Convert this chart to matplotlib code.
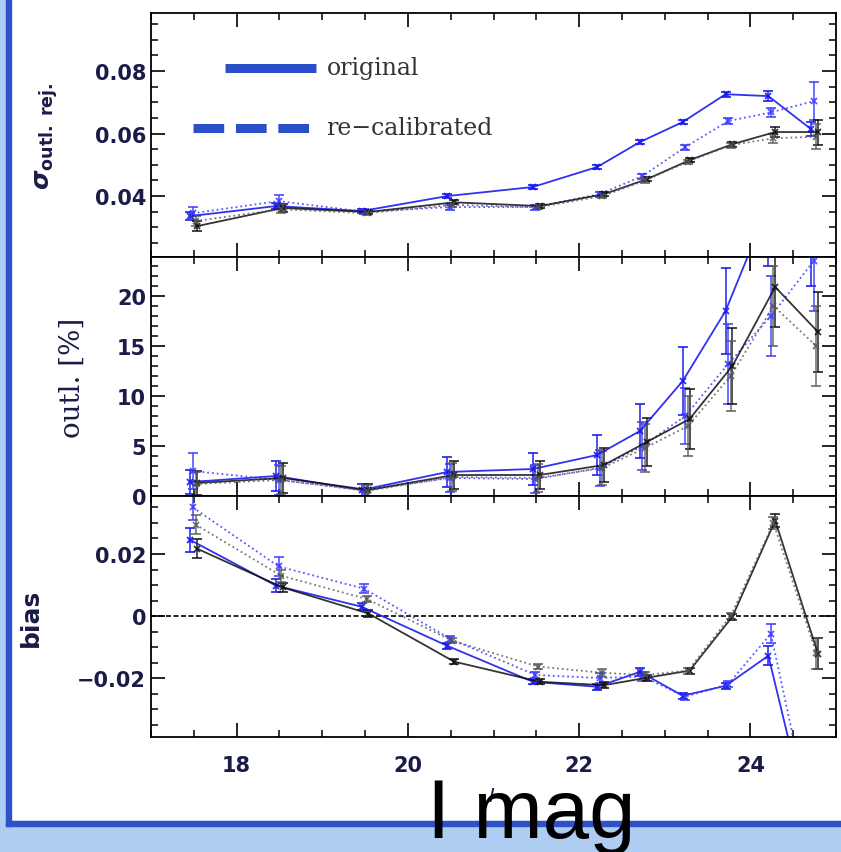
"""
Photo-z quality vs I magnitude: scatter after outlier rejection, outlier
fraction and bias, for the original and the re-calibrated catalogues.
"""

import numpy as np
import matplotlib
matplotlib.use("Agg")
import matplotlib.pyplot as plt
from matplotlib.patches import Rectangle
from matplotlib.ticker import MultipleLocator

W, H = 841, 853
NAVY = "#1b1b48"
BLUE = "#1a1aee"
BLUE_DOT = "#3a3aff"
BLACK = "#111111"
GREY = "#555555"
LEG_BLUE = "#2b4fc8"
FRAME_DARK = "#2f50c8"
FRAME_LIGHT = "#aecdf1"

mag = [17.5, 18.5, 19.5, 20.5, 21.5, 22.25, 22.75, 23.25, 23.75, 24.25, 24.75]

# sigma after outlier rejection
sig_blue = [0.0336, 0.0368, 0.0352, 0.0400, 0.0429, 0.0493, 0.0573, 0.0637, 0.0726, 0.0720, 0.0614]
sig_blue_err = [0.0012, 0.0010, 0.0006, 0.0006, 0.0005, 0.0005, 0.0006, 0.0006, 0.0008, 0.0015, 0.0022]
sig_blue_rc = [0.0345, 0.0384, 0.0350, 0.0365, 0.0365, 0.0406, 0.0464, 0.0557, 0.0640, 0.0668, 0.0704]
sig_blue_rc_err = [0.0020, 0.0020, 0.0008, 0.0008, 0.0008, 0.0008, 0.0008, 0.0008, 0.0010, 0.0015, 0.0060]
sig_black = [0.0304, 0.0362, 0.0349, 0.0380, 0.0368, 0.0406, 0.0454, 0.0515, 0.0566, 0.0605, 0.0605]
sig_black_err = [0.0015, 0.0012, 0.0006, 0.0006, 0.0006, 0.0006, 0.0007, 0.0007, 0.0008, 0.0015, 0.0040]
sig_black_rc = [0.0320, 0.0358, 0.0345, 0.0372, 0.0364, 0.0400, 0.0450, 0.0510, 0.0563, 0.0585, 0.0590]
sig_black_rc_err = [0.0015, 0.0012, 0.0006, 0.0006, 0.0006, 0.0006, 0.0007, 0.0007, 0.0008, 0.0015, 0.0040]

# outlier fraction [%]
out_blue = [1.4, 2.0, 0.6, 2.4, 2.7, 4.1, 6.5, 11.5, 18.5, 29.0, 27.0]
out_blue_err = [1.2, 1.5, 0.6, 1.5, 1.6, 2.0, 2.7, 3.4, 4.3, 6.0, 6.0]
out_blue_rc = [2.5, 1.6, 0.6, 1.8, 1.7, 2.8, 5.0, 8.0, 13.2, 18.0, 23.5]
out_blue_rc_err = [1.8, 1.5, 0.6, 1.4, 1.4, 1.8, 2.4, 2.8, 4.0, 4.0, 5.0]
out_black = [1.3, 1.8, 0.6, 2.1, 2.1, 3.1, 5.4, 7.7, 13.0, 20.9, 16.4]
out_black_err = [1.2, 1.5, 0.6, 1.4, 1.4, 1.7, 2.4, 3.0, 3.8, 4.0, 4.0]
out_black_rc = [1.2, 1.6, 0.5, 1.9, 1.8, 2.8, 4.8, 7.0, 12.0, 19.0, 15.0]
out_black_rc_err = [1.2, 1.4, 0.6, 1.4, 1.4, 1.7, 2.4, 3.0, 3.5, 4.0, 4.0]

# bias
bias_blue = [0.0245, 0.0098, 0.0030, -0.0096, -0.0212, -0.0228, -0.0180, -0.0257, -0.0225, -0.0128, -0.0700]
bias_blue_err = [0.0040, 0.0020, 0.0012, 0.0010, 0.0008, 0.0010, 0.0012, 0.0010, 0.0010, 0.0030, 0.0030]
bias_blue_rc = [0.0350, 0.0160, 0.0088, -0.0073, -0.0190, -0.0200, -0.0195, -0.0260, -0.0220, -0.0057, -0.0700]
bias_blue_rc_err = [0.0040, 0.0030, 0.0015, 0.0010, 0.0010, 0.0015, 0.0015, 0.0010, 0.0010, 0.0030, 0.0030]
bias_black = [0.0217, 0.0092, 0.0008, -0.0147, -0.0212, -0.0223, -0.0199, -0.0176, -0.0002, 0.0308, -0.0122]
bias_black_err = [0.0030, 0.0015, 0.0010, 0.0008, 0.0008, 0.0010, 0.0010, 0.0010, 0.0010, 0.0020, 0.0050]
bias_black_rc = [0.0295, 0.0130, 0.0055, -0.0080, -0.0163, -0.0183, -0.0190, -0.0176, 0.0000, 0.0300, -0.0120]
bias_black_rc_err = [0.0030, 0.0020, 0.0010, 0.0008, 0.0008, 0.0012, 0.0010, 0.0010, 0.0010, 0.0020, 0.0050]


def fx(px):
    return px / W


def fy(py):
    return 1 - py / H


def _series(ax, ys):
    x = np.array(mag)
    styles = [(-0.04, BLUE, "-", 0.9), (-0.01, BLUE_DOT, ":", 0.85),
              (0.04, BLACK, "-", 0.85), (0.02, GREY, ":", 0.8)]
    for (dx, col, ls, al), (y, e) in zip(styles, ys):
        ax.errorbar(x + dx, y, yerr=e, color=col, ls=ls, lw=1.3, marker="x",
                    ms=5, mew=1.3, capsize=3.5, elinewidth=1.2, alpha=al)


def _style(ax, ylim, major, minor):
    ax.set_xlim(17, 25)
    ax.set_ylim(*ylim)
    ax.xaxis.set_major_locator(MultipleLocator(2))
    ax.xaxis.set_minor_locator(MultipleLocator(0.5))
    ax.yaxis.set_major_locator(MultipleLocator(major))
    ax.yaxis.set_minor_locator(MultipleLocator(minor))
    ax.tick_params(which="both", direction="in", top=True, right=True,
                   colors="black", labelcolor=NAVY, labelsize=15)
    ax.tick_params(which="major", length=10, width=1.2)
    ax.tick_params(which="minor", length=5, width=1.1)
    ax.tick_params(axis="x", pad=13)
    for s in ax.spines.values():
        s.set_linewidth(1.3)
    for lab in ax.get_yticklabels() + ax.get_xticklabels():
        lab.set_fontweight("bold")


fig = plt.figure(figsize=(W / 100, H / 100), dpi=100)
fig.patch.set_facecolor("white")

# presentation frame: light blue outside, dark blue rule round the slide
fig.add_artist(Rectangle((0, 0), fx(6), 1, transform=fig.transFigure,
                         color=FRAME_LIGHT, zorder=0))
fig.add_artist(Rectangle((0, 0), 1, fy(822), transform=fig.transFigure,
                         color=FRAME_LIGHT, zorder=0))
fig.add_artist(Rectangle((fx(6), fy(827)), fx(5), 1 - fy(827), transform=fig.transFigure,
                         color=FRAME_DARK, zorder=0))
fig.add_artist(Rectangle((fx(6), fy(827)), 1, fy(822) - fy(827), transform=fig.transFigure,
                         color=FRAME_DARK, zorder=0))

x0, x1 = fx(151), fx(836)
ax1 = fig.add_axes([x0, fy(258), x1 - x0, fy(14) - fy(258)])
ax2 = fig.add_axes([x0, fy(497), x1 - x0, fy(258) - fy(497)])
ax3 = fig.add_axes([x0, fy(738), x1 - x0, fy(497) - fy(738)])

_series(ax1, [(sig_blue, sig_blue_err), (sig_blue_rc, sig_blue_rc_err),
              (sig_black, sig_black_err), (sig_black_rc, sig_black_rc_err)])
_style(ax1, (0.0205, 0.0986), 0.02, 0.005)
ax1.tick_params(labelbottom=False)
ax1.set_ylabel(r"$\boldsymbol{\sigma}_{\mathbf{outl.\ rej.}}$", fontsize=18, color=NAVY)
ax1.yaxis.set_label_coords(-0.133, 0.50)

# legend drawn by hand
ax1.plot([17.87, 18.93], [0.0810, 0.0810], color=LEG_BLUE, lw=6.5,
         solid_capstyle="butt")
ax1.plot([17.49, 18.90], [0.0618, 0.0618], color=LEG_BLUE, lw=6.5,
         ls=(0, (3.4, 1.3)), dash_capstyle="butt")
ax1.text(19.05, 0.0810, "original", family="DejaVu Serif", fontsize=17,
         color="#333333", va="center")
ax1.text(19.05, 0.0618, "re\u2212calibrated", family="DejaVu Serif", fontsize=17,
         color="#333333", va="center")

_series(ax2, [(out_blue, out_blue_err), (out_blue_rc, out_blue_rc_err),
              (out_black, out_black_err), (out_black_rc, out_black_rc_err)])
_style(ax2, (0, 23.9), 5, 1)
ax2.tick_params(labelbottom=False)
ax2.set_ylabel("outl. [%]", family="DejaVu Serif", fontsize=20, color=NAVY)
ax2.yaxis.set_label_coords(-0.096, 0.50)

ax3.axhline(0, color="black", lw=1.2, ls=(0, (3, 1.5)))
_series(ax3, [(bias_blue, bias_blue_err), (bias_blue_rc, bias_blue_rc_err),
              (bias_black, bias_black_err), (bias_black_rc, bias_black_rc_err)])
_style(ax3, (-0.0390, 0.0387), 0.02, 0.005)
ax3.yaxis.set_major_formatter(plt.FuncFormatter(
    lambda v, p: "0" if abs(v) < 1e-9 else f"{v:.2f}".replace("-", "\u2212")))
ax3.set_ylabel("bias", fontsize=18, fontweight="bold", color=NAVY)
ax3.yaxis.set_label_coords(-0.158, 0.50)

fig.text(fx(492), fy(797), r"$I$", fontsize=14, color=NAVY, ha="center", va="center")
fig.text(fx(531), fy(838), "I mag", family="Liberation Sans", fontsize=60,
         color="black", ha="center", va="baseline", zorder=10)

fig.savefig("out.png", dpi=100)
